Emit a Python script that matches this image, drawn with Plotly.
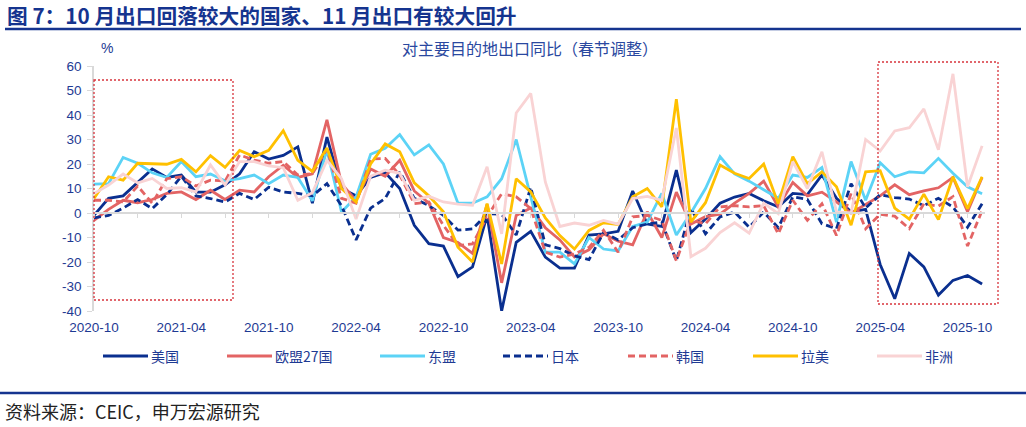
import pandas as pd
import plotly.graph_objects as go

# ---------------- data ----------------
months = pd.period_range("2020-10", "2025-11", freq="M").strftime("%Y-%m").tolist()

tick_labels = ["2020-10", "2021-04", "2021-10", "2022-04", "2022-10", "2023-04",
               "2023-10", "2024-04", "2024-10", "2025-04", "2025-10"]
y_tick_values = [-40, -30, -20, -10, 0, 10, 20, 30, 40, 50, 60]
y_tick_labels = ["-40", "-30", "-20", "-10", "0", "10", "20", "30", "40", "50", "60"]

us = [-1, 6, 7, 12.5, 18, 14.5, 15.5, 8.5, 8.5, 11.5,
      16, 25, 22, 23.5, 27, 4, 31, 10, 7, 14.5,
      16.5, 10, -5, -12.5, -13.5, -26, -22, -1, -40, -12,
      -7.5, -18, -22.5, -22.5, -9, -8.5, -7.5, 9, -4.5, -5.5,
      17.5, -8, -2.5, 4, 6.5, 8, 5, 2.5, 8, 7.5,
      15.5, 6, 0.5, 1.5, -21, -35, -16.5, -22, -33.5, -27.5,
      -25.5, -29]
eu27 = [-3, 1.5, 5.2, 4.2, 5.5, 8, 8.6, 5.5, 9.3, 5.5,
        9.3, 8.6, 14.8, 19.5, 14.5, 16, 38, 12, 5, 18,
        15, 21.5, 9, 4, -10, -12, -16.5, 3.5, -28.5, -1,
        2, -6, -11, -18, -15, -8.5, -11.5, -13, 0.5, -10,
        8.5, -4.5, -1.5, -0.5, 4, 8, 13, 2.5, 12.5, 7,
        8.5, 4.5, 0, 3.5, 7, 11.5, 7.5, 9, 10.3, 14.5,
        0.5, 14.5]
asean = [11.8, 12, 22.7, 20.3, 16.4, 14.5, 21, 14.8, 15.9, 13.2,
         14, 15.5, 12, 15.5, 14.5, 5, 25.8, 0.4, 6.5, 24,
         26.4, 32, 23.7, 27.8, 20, 4, 4, 6.6, 14, 30,
         6.6, -16, -16, -20.8, -10, -14.7, -15.5, -5.5, -3.7, 8,
         -9, 0, 10, 23, 16, 13, 9.5, 6, 15.5, 14.5,
         18.6, -3.7, 21, 5.2, 20.5, 14.8, 16.8, 16.4, 22.3, 16.2,
         10.7, 7.9]
japan = [-2, -1, 2, 5.5, 1.8, 7.5, 15, 7, 5.9, 4.5,
         8, 5.5, 10.5, 8.6, 8, 7, 12, 3, -11, 2,
         5.9, 16.8, 6, 3, -1, -7, -6.5, -0.3, -0.5, -9,
         10.5, -13, -14.5, -17.5, -19, -8, -11, -6, -4.5, -3.7,
         -19.5, 1.8, -8.5, -1.6, 0.4, -5.8, 0.4, -6, 6.6, 5.5,
         -4.4, -6.4, 12, 2, 7.5, 6.3, 5.7, 3, 6, 2.5,
         -5.8, 3.8]
korea = [5.2, 5.2, 4.5, 11, 4, 14, 14.8, 11, 13.4, 13,
         23.7, 21.6, 20.3, 21, 15.5, 16, 26, 6, 4, 22,
         22.3, 15.5, 3.8, 4.5, -5, -13.3, -12.6, -1.6, 7.9, 6.6,
         1.8, -16, -18, -16.7, -14, -7.1, -16, -1.6, -1, -3,
         -19.5, -3, -4.4, 2.5, 3, 2.5, 3, -8.5, 5.2, -3,
         3.8, -9.2, 7.9, -6.4, -0.5, -1.3, -6.4, 3.8, 2.8, 6.7,
         -13.5, 1]
latam = [5.9, 14.8, 13.4, 20.3, 20.1, 19.9, 21.9, 16.8, 23.4, 18.6,
         25.5, 23, 25.6, 33.6, 21.5, 17, 26.5, 10, 4.5, 20,
         28.2, 25, 12.3, 7, 0.5, -14, -20, 3.8, -20.8, 14,
         8.6, -2, -9.2, -14.7, -7.1, -4, -4.7, 6.6, 10, 2.5,
         46.5, -3.7, 4.2, 19.6, 16.2, 14.1, 20, 3.8, 23, 12,
         16.8, 10.7, -5, 16.8, 17.3, 2, -2.5, 7.7, -2.7, 14.8,
         1.8, 14.8]
africa = [7.9, 11.4, 15.9, 12.3, 14.1, 10, 10.3, 8.6, 19.6, 11.4,
          21, 21, 19.2, 18.5, 5.2, 8.3, 21.5, 14, -2.5, 15,
          17.5, 16.2, 5.2, 6.8, 4.5, 3.6, 3.2, 18.9, -8.5, 40.8,
          48.8, 12.7, -5.5, -4.1, -5, -3, -4.5, 5.9, 6.8, 5.2,
          34.7, -17.8, -14.4, -8, -4, -8.2, 4, -0.3, 21, 10,
          25, 0.5, 0, 30, 25.3, 33.5, 34.8, 42.5, 25.8, 56.8,
          10.7, 27.4]

series_names = ["美国", "欧盟27国", "东盟", "日本", "韩国", "拉美", "非洲"]
series_values = [us, eu27, asean, japan, korea, latam, africa]

# ---------------- styles ----------------
NAVY = "#0A2F8F"
RED = "#E36464"
CYAN = "#5CD3F6"
GOLD = "#FFC000"
PINK = "#F9D3D4"
TEXT_BLUE = "#1E3A93"
GRID = "#D9D9D9"
FONT = "Liberation Sans, Arial, Noto Sans CJK SC, sans-serif"
CJK = "Noto Sans CJK SC, Liberation Sans, sans-serif"

styles = [
    dict(color=NAVY, width=2.8, dash="solid"),
    dict(color=RED, width=2.8, dash="solid"),
    dict(color=CYAN, width=2.8, dash="solid"),
    dict(color=NAVY, width=2.8, dash="7px,4px"),
    dict(color=RED, width=2.8, dash="7px,4px"),
    dict(color=GOLD, width=2.8, dash="solid"),
    dict(color=PINK, width=2.8, dash="solid"),
]

fig = go.Figure()
for name, vals, st in zip(series_names, series_values, styles):
    fig.add_trace(go.Scatter(x=months, y=vals, name=name, mode="lines",
                             line=st, showlegend=False))

# plot area geometry (pixels)
L, R, T, B = 94, 41, 66, 116
W, H = 1026, 427
PW, PH = W - L - R, H - T - B


def px(x):
    return (x - L) / PW


def py(y):
    return (H - B - y) / PH


tickvals = months[0::3]
ticktext = []
lab_iter = iter(tick_labels)
for k in range(len(tickvals)):
    ticktext.append(next(lab_iter) if k % 2 == 0 else "")

fig.update_layout(
    width=W, height=H,
    margin=dict(l=L, r=R, t=T, b=B),
    paper_bgcolor="white", plot_bgcolor="white",
    font=dict(family=FONT, color=TEXT_BLUE, size=13.5),
    xaxis=dict(type="category", range=[0, 61.2], anchor="free", position=0.4,
               showline=True, linecolor=GRID, linewidth=2,
               ticks="outside", ticklen=4, tickwidth=1.2, tickcolor=GRID,
               tickvals=tickvals, ticktext=ticktext, tickangle=0,
               ticklabelstandoff=98, showgrid=False, zeroline=False,
               tickfont=dict(family=FONT, size=13.5, color=TEXT_BLUE)),
    yaxis=dict(range=[-40, 60], tickvals=y_tick_values, ticktext=y_tick_labels,
               showline=True, linecolor=GRID, linewidth=1.5,
               ticks="outside", ticklen=5, tickwidth=1.2, tickcolor=GRID,
               showgrid=False, zeroline=False, ticklabelstandoff=3,
               tickfont=dict(family=FONT, size=13.5, color=TEXT_BLUE)),
)

shapes = []
annotations = []

# title & rules
annotations.append(dict(xref="paper", yref="paper", x=px(5), y=py(15),
                        xanchor="left", yanchor="middle", showarrow=False,
                        text="<b>图 7：10 月出口回落较大的国家、11 月出口有较大回升</b>",
                        font=dict(family=CJK, size=20.7, color="#15348F")))
shapes.append(dict(type="line", xref="paper", yref="paper",
                   x0=px(5), x1=px(1021), y0=py(29), y1=py(29),
                   line=dict(color="#15348F", width=2.5)))
shapes.append(dict(type="line", xref="paper", yref="paper",
                   x0=px(0), x1=px(1026), y0=py(393), y1=py(393),
                   line=dict(color="#15348F", width=2.5)))
annotations.append(dict(xref="paper", yref="paper", x=px(107), y=py(48),
                        xanchor="center", yanchor="middle", showarrow=False,
                        text="%", font=dict(family=FONT, size=14, color=TEXT_BLUE)))
annotations.append(dict(xref="paper", yref="paper", x=px(530), y=py(48),
                        xanchor="center", yanchor="middle", showarrow=False,
                        text="对主要目的地出口同比（春节调整）",
                        font=dict(family=CJK, size=16, color="#2A48A0")))
annotations.append(dict(xref="paper", yref="paper", x=px(3), y=py(411),
                        xanchor="left", yanchor="middle", showarrow=False,
                        text="资料来源：CEIC，申万宏源研究",
                        font=dict(family=CJK, size=18, color="#222222")))

# highlight boxes
box_style = dict(color="#D8343C", width=1.3, dash="2px,2px")
shapes.append(dict(type="rect", xref="paper", yref="paper",
                   x0=px(94), x1=px(233), y0=py(80), y1=py(300),
                   line=box_style, fillcolor="rgba(0,0,0,0)"))
shapes.append(dict(type="rect", xref="paper", yref="paper",
                   x0=px(878), x1=px(998), y0=py(62), y1=py(304),
                   line=box_style, fillcolor="rgba(0,0,0,0)"))

# manual legend
legend_x = [103, 227, 380, 503, 628, 753, 877]
LEG_Y = 356
for name, st, lx in zip(series_names, styles, legend_x):
    shapes.append(dict(type="line", xref="paper", yref="paper",
                       x0=px(lx), x1=px(lx + 45), y0=py(LEG_Y), y1=py(LEG_Y),
                       line=dict(color=st["color"], width=3, dash=st["dash"])))
    annotations.append(dict(xref="paper", yref="paper", x=px(lx + 46), y=py(LEG_Y),
                            xanchor="left", yanchor="middle", showarrow=False,
                            text=name, font=dict(family=CJK, size=14, color=TEXT_BLUE)))

fig.update_layout(shapes=shapes, annotations=annotations)

fig.write_html("out.html", config={"displayModeBar": False},
               post_script="document.body.style.margin='0';")
